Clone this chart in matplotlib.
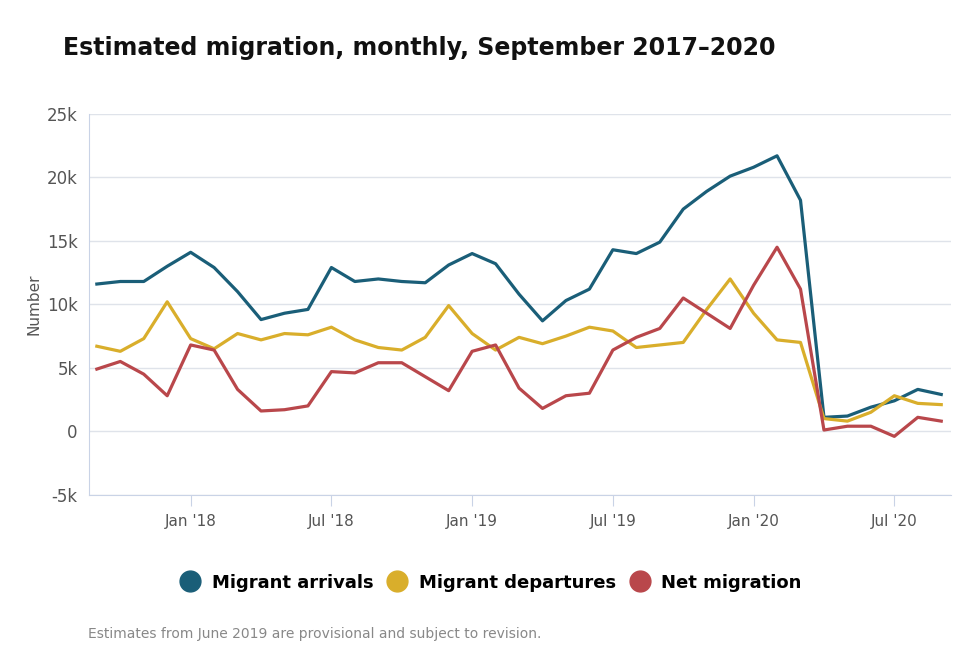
import numpy as np
import matplotlib
matplotlib.use('Agg')
import matplotlib.pyplot as plt
from matplotlib.lines import Line2D

# Monthly values, Sep 2017 - Sep 2020 (thousands)
months = np.arange(37)  # 0 = Sep 2017
arrivals = [11.6, 11.8, 11.8, 13.0, 14.1, 12.9, 11.0, 8.8, 9.3, 9.6, 12.9, 11.8, 12.0,
            11.8, 11.7, 13.1, 14.0, 13.2, 10.8, 8.7, 10.3, 11.2, 14.3, 14.0, 14.9,
            17.5, 18.9, 20.1, 20.8, 21.7, 18.2, 1.1, 1.2, 1.9, 2.4, 3.3, 2.9]
departures = [6.7, 6.3, 7.3, 10.2, 7.3, 6.5, 7.7, 7.2, 7.7, 7.6, 8.2, 7.2, 6.6,
              6.4, 7.4, 9.9, 7.7, 6.4, 7.4, 6.9, 7.5, 8.2, 7.9, 6.6, 6.8,
              7.0, 9.6, 12.0, 9.3, 7.2, 7.0, 1.0, 0.8, 1.5, 2.8, 2.2, 2.1]
net = [4.9, 5.5, 4.5, 2.8, 6.8, 6.4, 3.3, 1.6, 1.7, 2.0, 4.7, 4.6, 5.4,
       5.4, 4.3, 3.2, 6.3, 6.8, 3.4, 1.8, 2.8, 3.0, 6.4, 7.4, 8.1,
       10.5, 9.3, 8.1, 11.5, 14.5, 11.2, 0.1, 0.4, 0.4, -0.4, 1.1, 0.8]

tick_pos = [4, 10, 16, 22, 28, 34]
tick_labels = ["Jan '18", "Jul '18", "Jan '19", "Jul '19", "Jan '20", "Jul '20"]
y_ticks = [-5, 0, 5, 10, 15, 20, 25]
y_labels = ['-5k', '0', '5k', '10k', '15k', '20k', '25k']

c_arr, c_dep, c_net = '#1a5e78', '#d9ae2b', '#b9474b'

fig = plt.figure(figsize=(9.74, 6.51), dpi=100)
ax = fig.add_axes([0.091, 0.24, 0.885, 0.585])

ax.plot(months, arrivals, color=c_arr, lw=2.3)
ax.plot(months, departures, color=c_dep, lw=2.3)
ax.plot(months, net, color=c_net, lw=2.3)

ax.set_xlim(-0.35, 36.4)
ax.set_ylim(-5, 25)
ax.set_yticks(y_ticks)
ax.set_yticklabels(y_labels)
ax.set_xticks(tick_pos)
ax.set_xticklabels(tick_labels)
ax.grid(axis='y', color='#dfe3ea', lw=1)
ax.set_axisbelow(True)
for s in ['top', 'right']:
    ax.spines[s].set_visible(False)
for s in ['left', 'bottom']:
    ax.spines[s].set_color('#c9d3e6')
ax.tick_params(axis='y', length=0, labelsize=12, colors='#555555', pad=8)
ax.tick_params(axis='x', length=8, color='#c9d3e6', labelsize=11, colors='#555555', pad=6)
ax.set_ylabel('Number', fontsize=11, color='#555555')

fig.text(0.065, 0.915, 'Estimated migration, monthly, September 2017\u20132020',
         fontsize=17, fontweight='bold', color='#111111')

handles = [Line2D([], [], marker='o', ls='', ms=15, color=c) for c in (c_arr, c_dep, c_net)]
fig.legend(handles, ['Migrant arrivals', 'Migrant departures', 'Net migration'],
           loc='center', bbox_to_anchor=(0.5, 0.105), ncol=3, frameon=False,
           prop={'size': 13, 'weight': 'bold'}, handletextpad=0.2, columnspacing=0.3)

fig.text(0.09, 0.02, 'Estimates from June 2019 are provisional and subject to revision.',
         fontsize=10, color='#888888')

fig.savefig('out.png')
